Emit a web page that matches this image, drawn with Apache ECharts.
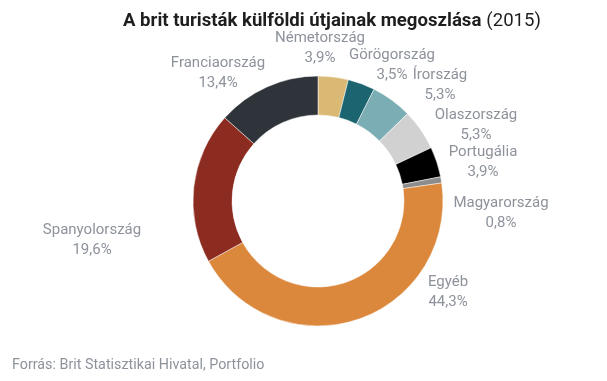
<!DOCTYPE html>
<html>
<head>
<meta charset="utf-8">
<script src="https://cdn.jsdelivr.net/npm/echarts@6/dist/echarts.min.js"></script>
<style>html,body{margin:0;padding:0;background:#fff;}#c{width:607px;height:381px;}</style>
</head>
<body>
<div id="c"></div>
<script>
const categories = ['Németország','Görögország','Írország','Olaszország','Portugália','Magyarország','Egyéb','Spanyolország','Franciaország'];
const values = [3.9, 3.5, 5.3, 5.3, 3.9, 0.8, 44.3, 19.6, 13.4];
const colors = ['#d9b973','#1c6470','#7badb4','#d1d1d1','#000000','#8c8c8c','#dc883c','#8c2b1f','#2f343a'];
// label anchor positions (center of the two-line label), in px
const labelPos = [[320,48],[392,65],[440,85],[476,125],[483,162],[501,213],[448,292],[92,240],[218,73]];

const chart = echarts.init(document.getElementById('c'), null, {renderer:'canvas'});
const fmt = v => v.toFixed(1).replace('.', ',') + '%';
chart.setOption({
  animation: false,
  backgroundColor: '#ffffff',
  title: {
    text: '{b|A brit turisták külföldi útjainak megoszlása} {n|(2015)}',
    left: 118, top: 7,
    textStyle: {
      rich: {
        b: {fontFamily: 'Roboto', fontWeight: 'bold', fontSize: 18.6, color: '#1e1e1e'},
        n: {fontFamily: 'Roboto', fontWeight: 'normal', fontSize: 18.6, color: '#1e1e1e'}
      }
    }
  },
  graphic: [{
    type: 'text', left: 12, top: 358,
    style: {text: 'Forrás: Brit Statisztikai Hivatal, Portfolio', font: '14.3px Roboto', fill: '#8d929b'}
  }],
  series: [{
    type: 'pie',
    center: [318, 201],
    radius: [86, 125],
    startAngle: 90,
    clockwise: true,
    avoidLabelOverlap: false,
    label: {
      show: true, position: 'outside',
      fontFamily: 'Roboto', fontSize: 15, color: '#8d929b', lineHeight: 20,
      align: 'center',
      formatter: p => p.name + '\n' + fmt(p.value)
    },
    labelLine: {show: false},
    labelLayout: p => ({x: labelPos[p.dataIndex][0], y: labelPos[p.dataIndex][1], align: 'center', verticalAlign: 'middle'}),
    itemStyle: {borderColor: '#ffffff', borderWidth: 0.5},
    emphasis: {disabled: true},
    data: categories.map((c, i) => ({name: c, value: values[i], itemStyle: {color: colors[i]}}))
  }]
});
</script>
</body>
</html>
